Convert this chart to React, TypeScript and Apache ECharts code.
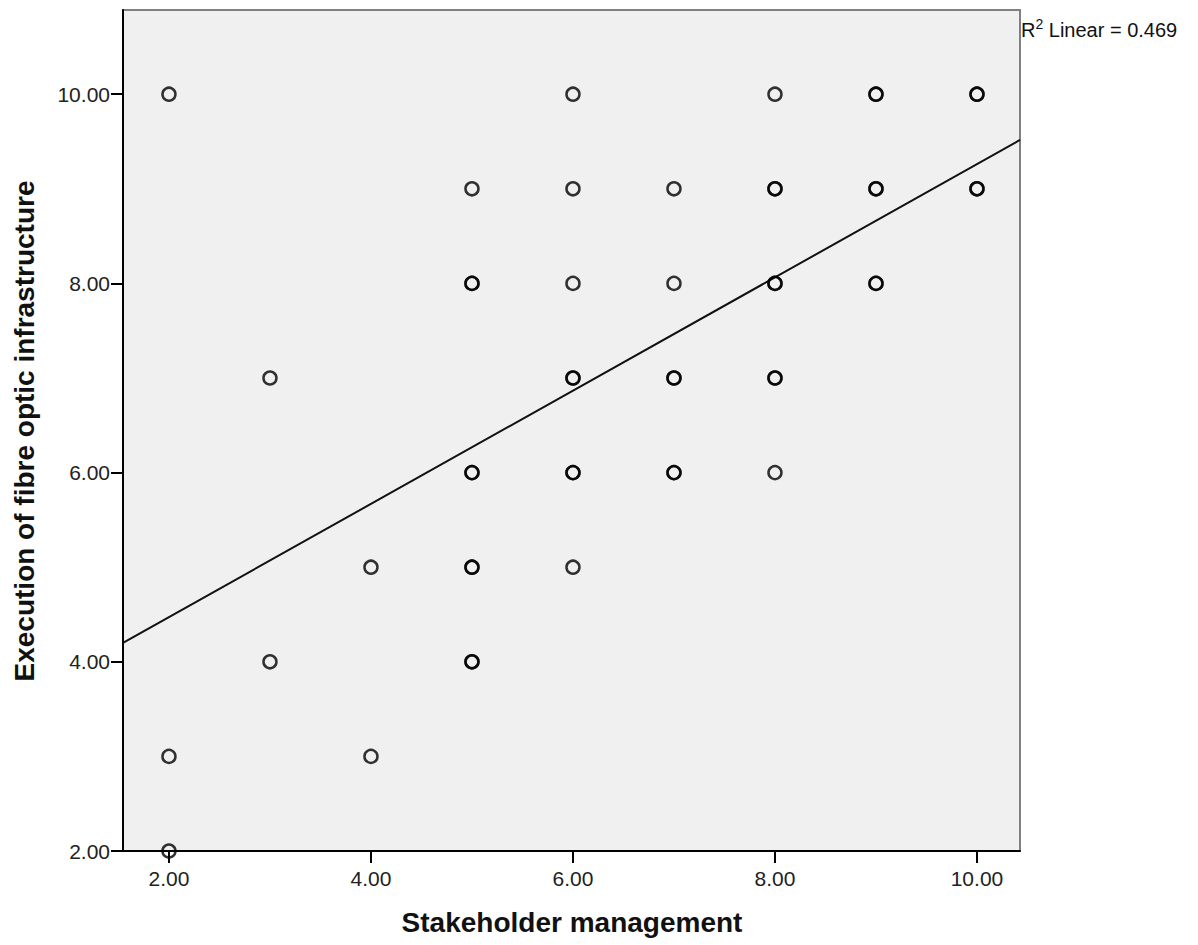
import React, { useEffect, useRef } from "react";
import * as echarts from "echarts";

// Scatter data: Stakeholder management (x) vs Execution of fibre optic infrastructure (y)
// Repeated pairs stand for overlapping respondents (drawn darker in the reference).
const stakeholder = [
  2, 2, 2,
  3, 3,
  4, 4,
  5, 5, 5, 5, 5, 5, 5, 5, 5,
  6, 6, 6, 6, 6, 6, 6, 6,
  7, 7, 7, 7, 7, 7,
  8, 8, 8, 8, 8, 8, 8, 8,
  9, 9, 9, 9, 9, 9,
  10, 10, 10, 10,
];
const execution = [
  10, 3, 2,
  7, 4,
  5, 3,
  9, 8, 8, 6, 6, 5, 5, 4, 4,
  10, 9, 8, 7, 7, 6, 6, 5,
  9, 8, 7, 7, 6, 6,
  10, 9, 9, 8, 8, 7, 7, 6,
  10, 10, 9, 9, 8, 8,
  10, 10, 9, 9,
];

const tickValues = [2, 4, 6, 8, 10];
const xRange = [1.545, 10.426];
const yRange = [2, 10.89];

// Fit line
const fitIntercept = 3.275;
const fitSlope = 0.5986;
const rSquared = "0.469";

const xTitle = "Stakeholder management";
const yTitle = "Execution of fibre optic infrastructure";

export default function App() {
  const ref = useRef<HTMLDivElement>(null);

  useEffect(() => {
    if (!ref.current) return;
    const chart = echarts.init(ref.current, null, { renderer: "svg" });
    const pts = stakeholder.map((x, i) => [x, execution[i]]);
    const lineData = [
      [xRange[0], fitIntercept + fitSlope * xRange[0]],
      [xRange[1], fitIntercept + fitSlope * xRange[1]],
    ];
    const labelFont = "'Liberation Sans', Arial, sans-serif";
    chart.setOption({
      animation: false,
      backgroundColor: "#ffffff",
      grid: {
        left: 123,
        top: 10,
        right: 178,
        bottom: 94,
        show: true,
        backgroundColor: "#f0f0f0",
        borderColor: "#808080",
        borderWidth: 2,
      },
      xAxis: {
        type: "value",
        min: xRange[0],
        max: xRange[1],
        splitLine: { show: false },
        axisLine: { show: true, onZero: false, lineStyle: { color: "#000", width: 2 } },
        axisTick: { show: true, length: 12, customValues: tickValues, lineStyle: { color: "#000", width: 2 } },
        axisLabel: {
          customValues: tickValues,
          formatter: (v: number) => v.toFixed(2),
          color: "#222",
          fontSize: 21,
          fontFamily: labelFont,
          margin: 17,
        },
      },
      yAxis: {
        type: "value",
        min: yRange[0],
        max: yRange[1],
        splitLine: { show: false },
        axisLine: { show: true, onZero: false, lineStyle: { color: "#000", width: 2 } },
        axisTick: { show: true, length: 12, customValues: tickValues, lineStyle: { color: "#000", width: 2 } },
        axisLabel: {
          customValues: tickValues,
          formatter: (v: number) => v.toFixed(2),
          color: "#222",
          fontSize: 21,
          fontFamily: labelFont,
          margin: 13,
        },
      },
      series: [
        {
          type: "scatter",
          data: pts,
          symbol: "circle",
          symbolSize: 13,
          clip: true,
          itemStyle: { color: "rgba(0,0,0,0)", borderColor: "#000", borderWidth: 2.5 },
          z: 3,
        },
        {
          type: "line",
          data: lineData,
          showSymbol: false,
          symbol: "none",
          lineStyle: { color: "#111", width: 2 },
          z: 2,
        },
      ],
      graphic: [
        {
          type: "text",
          x: 572,
          y: 922,
          style: {
            text: xTitle,
            font: `bold 28px ${labelFont}`,
            fill: "#111",
            textAlign: "center",
            textVerticalAlign: "middle",
          },
        },
        {
          type: "text",
          x: 24,
          y: 431,
          rotation: Math.PI / 2,
          style: {
            text: yTitle,
            font: `bold 28px ${labelFont}`,
            fill: "#111",
            textAlign: "center",
            textVerticalAlign: "middle",
          },
        },
        {
          type: "text",
          x: 1021,
          y: 28,
          style: {
            text: "{r|R}{s|2}{r| Linear = " + rSquared + "}",
            rich: {
              r: { fontSize: 20, fontFamily: labelFont, fill: "#111", color: "#111", verticalAlign: "bottom" },
              s: { fontSize: 14, fontFamily: labelFont, fill: "#111", color: "#111", verticalAlign: "top", padding: [0, 0, 9, 0] },
            },
            textVerticalAlign: "middle",
          },
        },
      ],
    });
    return () => chart.dispose();
  }, []);

  return (
    <div
      ref={ref}
      style={{ position: "fixed", left: 0, top: 0, width: 1198, height: 945, background: "#fff" }}
    />
  );
}
